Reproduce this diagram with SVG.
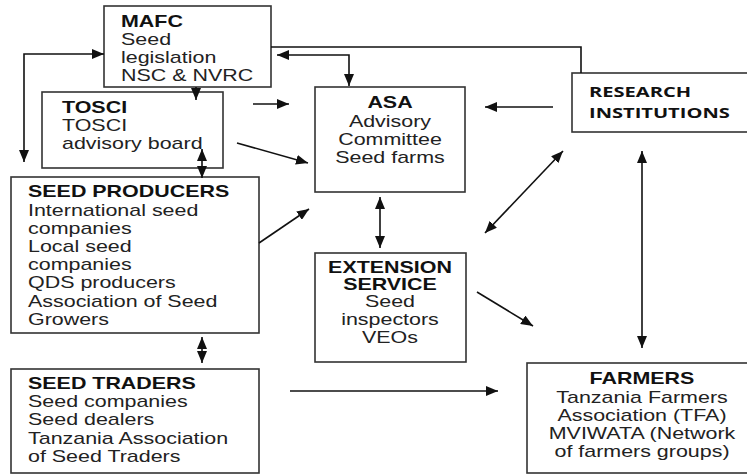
<svg xmlns="http://www.w3.org/2000/svg" width="747" height="475" viewBox="0 0 747 475">
<defs>
<marker id="ah" viewBox="0 0 12 10" refX="12" refY="5" markerWidth="12" markerHeight="10" markerUnits="userSpaceOnUse" orient="auto-start-reverse">
<path d="M0,0 L12,5 L0,10 z" fill="#111"/>
</marker>
<style>
.box{fill:#fff;stroke:#333;stroke-width:1.6}
.t{font-family:"Liberation Sans",Arial,sans-serif;font-size:16px;fill:#222}
.b{font-weight:bold;fill:#111}
.c{text-anchor:middle}
.r{font-family:"Open Sans","Liberation Sans",sans-serif;font-size:15px;font-weight:bold;fill:#111}
.ln{fill:none;stroke:#111;stroke-width:1.6}
.a{marker-end:url(#ah)}
.d{marker-start:url(#ah);marker-end:url(#ah)}
</style>
</defs>
<rect width="747" height="475" fill="#fff"/>
<g id="mafc">
<rect class="box" x="104" y="6" width="167" height="81"/>
<g transform="translate(121,0) scale(1.34,1)">
<text class="t b" x="0" y="27">MAFC</text>
<text class="t" x="0" y="45">Seed</text>
<text class="t" x="0" y="63">legislation</text>
<text class="t" x="0" y="81">NSC &amp; NVRC</text>
</g>
</g>
<g id="tosci">
<rect class="box" x="42" y="92" width="181" height="76"/>
<g transform="translate(62,0) scale(1.34,1)">
<text class="t b" x="0" y="113">TOSCI</text>
<text class="t" x="0" y="131">TOSCI</text>
<text class="t" x="0" y="149">advisory board</text>
</g>
</g>
<g id="asa">
<rect class="box" x="315" y="87" width="150" height="105"/>
<g transform="translate(390,0) scale(1.34,1)">
<text class="t b c" x="0" y="108">ASA</text>
<text class="t c" x="0" y="127">Advisory</text>
<text class="t c" x="0" y="145">Committee</text>
<text class="t c" x="0" y="163">Seed farms</text>
</g>
</g>
<g id="research">
<rect class="box" x="572" y="73" width="185" height="59"/>
<g transform="translate(589,0) scale(1.34,1)">
<text class="r" x="0" y="97">RESEARCH</text>
<text class="r" x="0" y="118">INSTITUTIONS</text>
</g>
</g>
<g id="seed-producers">
<rect class="box" x="11" y="177" width="248" height="156"/>
<g transform="translate(28,0) scale(1.34,1)">
<text class="t b" x="0" y="197">SEED PRODUCERS</text>
<text class="t" x="0" y="216">International seed</text>
<text class="t" x="0" y="234">companies</text>
<text class="t" x="0" y="252">Local seed</text>
<text class="t" x="0" y="270">companies</text>
<text class="t" x="0" y="288">QDS producers</text>
<text class="t" x="0" y="307">Association of Seed</text>
<text class="t" x="0" y="325">Growers</text>
</g>
</g>
<g id="extension">
<rect class="box" x="315" y="253" width="151" height="109"/>
<g transform="translate(390,0) scale(1.34,1)">
<text class="t b c" x="0" y="273">EXTENSION</text>
<text class="t b c" x="0" y="290">SERVICE</text>
<text class="t c" x="0" y="307">Seed</text>
<text class="t c" x="0" y="325">inspectors</text>
<text class="t c" x="0" y="343">VEOs</text>
</g>
</g>
<g id="seed-traders">
<rect class="box" x="11" y="369" width="248" height="104"/>
<g transform="translate(28,0) scale(1.34,1)">
<text class="t b" x="0" y="389">SEED TRADERS</text>
<text class="t" x="0" y="407">Seed companies</text>
<text class="t" x="0" y="425">Seed dealers</text>
<text class="t" x="0" y="444">Tanzania Association</text>
<text class="t" x="0" y="462">of Seed Traders</text>
</g>
</g>
<g id="farmers">
<rect class="box" x="527" y="363" width="230" height="110"/>
<g transform="translate(642,0) scale(1.34,1)">
<text class="t b c" x="0" y="384">FARMERS</text>
<text class="t c" x="0" y="403">Tanzania Farmers</text>
<text class="t c" x="0" y="421">Association (TFA)</text>
<text class="t c" x="0" y="439">MVIWATA (Network</text>
<text class="t c" x="0" y="457">of farmers groups)</text>
</g>
</g>
<g id="connectors">
<path class="ln" d="M271,47 H581 V73"/>
<path class="ln a" d="M196,87 V100"/>
<path class="ln d" d="M104,54 H24 V162"/>
<path class="ln d" d="M277,55 H349 V86"/>
<path class="ln a" d="M253,104 H289"/>
<path class="ln a" d="M237,143 L308,163"/>
<path class="ln a" d="M553,107 H485"/>
<path class="ln d" d="M202,149 V178"/>
<path class="ln a" d="M259,243 L309,209"/>
<path class="ln d" d="M380,197 V248"/>
<path class="ln d" d="M485,233 L563,151"/>
<path class="ln a" d="M477,292 L533,326"/>
<path class="ln d" d="M642,151 V348"/>
<path class="ln d" d="M202,337 V363"/>
<path class="ln a" d="M290,391 H498"/>
</g>
</svg>
